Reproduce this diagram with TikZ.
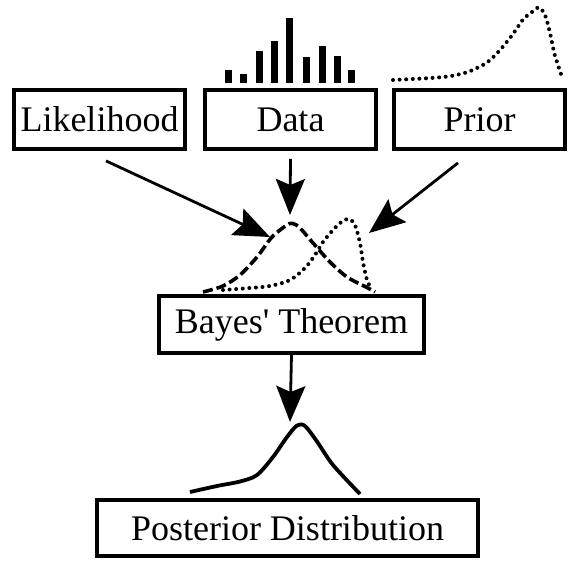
\documentclass[tikz,border=0pt]{standalone}
\usepackage{fontspec}
\setmainfont{Liberation Serif}
\usetikzlibrary{arrows.meta}

\begin{document}
\begin{tikzpicture}[x=1pt,y=-1pt,
  box/.style={draw,line width=3.8pt,inner sep=0pt,font=\fontsize{36}{40}\selectfont},
  arr/.style={line width=2.8pt,-{Stealth[length=36pt,width=29pt,inset=6pt]}},
  dashcurve/.style={line width=3.6pt,dash pattern=on 10pt off 4pt},
  dotcurve/.style={line width=4pt,line cap=round,dash pattern=on 0pt off 6.6pt},
  solidcurve/.style={line width=3.8pt,line join=round}]
\useasboundingbox (0,0) rectangle (582,568);

% boxes
\node[box,minimum width=171pt,minimum height=59pt] (lik) at (99.5,119.5) {Likelihood};
\node[box,minimum width=171pt,minimum height=59pt] (data) at (290.5,119.5) {Data};
\node[box,minimum width=171pt,minimum height=59pt] (prior) at (479.5,119.5) {Prior};
\node[box,minimum width=265pt,minimum height=57pt] (bayes) at (291.5,324.5) {Bayes\textquotesingle\ Theorem};
\node[box,minimum width=381pt,minimum height=56pt] (post) at (287.5,528) {Posterior Distribution};

% data bars
\foreach \x/\t in {228/70,243/74,259/51,274/41,289/18,306/57,322/46,337/56,351/70}
  \fill (\x-3.5,83) rectangle (\x+3.5,\t);

% prior above its box
\draw[dotcurve] plot[smooth] coordinates {(393,80) (431,78) (451,76) (469,71.5) (487,62.5)
  (500,50) (513,34) (523,19.5) (532,12) (539,7.5) (545,15) (550,33) (554,52) (557,62) (563,80)};

% curves over Bayes' Theorem
\draw[dashcurve] plot[smooth] coordinates {(203,292) (223,286) (240,275) (257,257) (272,237)
  (287,225) (293,223.5) (300,228) (313,243) (330,262) (347,277) (367,287.5) (375,292)};
\draw[dotcurve] plot[smooth] coordinates {(223,290) (250,288) (270,286) (290,280) (305,268)
  (315,255) (323,242) (333,230) (342,221.5) (349,219) (355,225) (360,243) (363,262) (367,280) (372,290)};

% posterior curve
\draw[solidcurve] plot[smooth] coordinates {(190,492) (217,486) (240,481.5) (257,475) (273,457)
  (287,437) (297,425.5) (305,426) (317,441.5) (333,465) (360,494)};

% arrows
\coordinate (liktip) at (270,237);
\coordinate (datatip) at (290,215);
\coordinate (priortip) at (369,233);
\coordinate (posttip) at (290,422);
\draw[arr] ([xshift=6.5pt,yshift=-10pt]lik.south) -- (liktip);
\draw[arr] ([yshift=-8pt]data.south) -- (datatip);
\draw[arr] ([xshift=-21.5pt,yshift=-12pt]prior.south) -- (priortip);
\draw[arr] (bayes.south) -- (posttip);
\end{tikzpicture}
\end{document}
